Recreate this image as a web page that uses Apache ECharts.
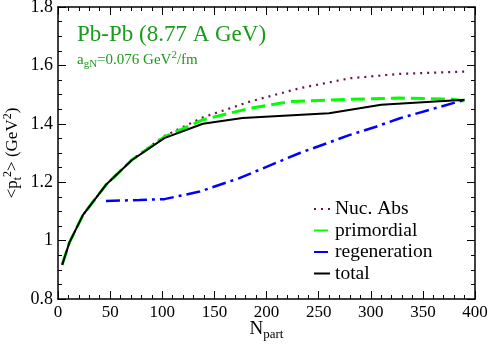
<!DOCTYPE html>
<html>
<head>
<meta charset="utf-8">
<script src="https://cdn.jsdelivr.net/npm/echarts@6/dist/echarts.min.js"></script>
<style>
  html, body { margin: 0; padding: 0; background: #fff; }
  #chart { width: 490px; height: 345px; }
</style>
</head>
<body>
<div id="chart"></div>
<script>
  // values
  const nucNpart = [4, 11, 24, 46, 71, 102, 139, 184, 232, 280, 328, 390]
  const nucPt = [0.917, 0.994, 1.088, 1.191, 1.278, 1.358, 1.422, 1.476, 1.522, 1.556, 1.571, 1.579]
  const primNpart = [4, 11, 24, 46, 71, 102, 139, 184, 222, 280, 328, 376, 390]
  const primPt = [0.917, 0.994, 1.088, 1.191, 1.277, 1.355, 1.414, 1.453, 1.476, 1.484, 1.488, 1.485, 1.478]
  const regenNpart = [46, 78, 102, 136, 174, 232, 280, 305, 328, 390]
  const regenPt = [1.136, 1.139, 1.142, 1.168, 1.214, 1.30, 1.362, 1.39, 1.419, 1.482]
  const totalNpart = [4, 11, 24, 46, 71, 102, 139, 177, 260, 310, 390]
  const totalPt = [0.917, 0.994, 1.088, 1.191, 1.276, 1.351, 1.40, 1.42, 1.436, 1.465, 1.482]

  const font = 'Liberation Serif'
  const green = '#1b9a1b'
  const pair = (xs, ys) => xs.map((x, i) => [x, ys[i]])

  const tickAxis = (extra) => Object.assign({
    axisLine: { show: true, onZero: false, lineStyle: { color: '#000', width: 1.5 } },
    axisTick: { show: true, inside: true, length: 8, lineStyle: { color: '#000', width: 1 } },
    splitLine: { show: false },
    axisLabel: { show: false },
  }, extra)

  const chart = echarts.init(document.getElementById('chart'))
  chart.setOption({
    animation: false,
    backgroundColor: '#fff',
    textStyle: { fontFamily: font },
    grid: { left: 58, right: 15, top: 7, bottom: 46, outerBoundsMode: 'none', containLabel: false },
    title: [
      {
        left: 72, top: 18,
        text: 'Pb-Pb (8.77 A GeV)',
        textStyle: { fontFamily: font, fontSize: 23, fontWeight: 'normal', color: green },
      },
      {
        left: 72, top: 45,
        text: '{a|a}{s|gN}{a|=0.076 GeV}{p|2}{a|/fm}',
        textStyle: {
          fontWeight: 'normal',
          rich: {
            a: { fontFamily: font, fontSize: 15, fontWeight: 'normal', color: green },
            s: { fontFamily: font, fontSize: 11, fontWeight: 'normal', color: green, padding: [9, 0, 0, 0] },
            p: { fontFamily: font, fontSize: 11, fontWeight: 'normal', color: green, padding: [0, 0, 9, 0] },
          },
        },
      },
    ],
    legend: {
      orient: 'vertical',
      left: 308, top: 194,
      itemWidth: 16, itemHeight: 10, itemGap: 1.5,
      itemStyle: { opacity: 0 },
      textStyle: { fontFamily: font, fontSize: 19.5, color: '#000', lineHeight: 19, padding: [0, 0, 0, 0] },
      data: ['Nuc. Abs', 'primordial', 'regeneration', 'total'],
    },
    xAxis: [
      tickAxis({
        type: 'value', min: 0, max: 400, interval: 50,
        minorTick: { show: true, splitNumber: 5, length: 4, lineStyle: { color: '#000' } },
        axisLabel: { show: true, color: '#000', fontFamily: font, fontSize: 17, margin: 5 },
        name: '{n|N}{s|part}',
        nameLocation: 'middle', nameGap: 18, nameMoveOverlap: false,
        nameTextStyle: {
          rich: {
            n: { fontFamily: font, fontSize: 19, color: '#000' },
            s: { fontFamily: font, fontSize: 13, color: '#000', padding: [11, 0, 0, 0] },
          },
        },
      }),
      tickAxis({
        type: 'value', position: 'top', min: 0, max: 400, interval: 50,
        minorTick: { show: true, splitNumber: 5, length: 4, lineStyle: { color: '#000' } },
      }),
    ],
    yAxis: [
      tickAxis({
        type: 'value', min: 0.8, max: 1.8, interval: 0.2,
        minorTick: { show: true, splitNumber: 4, length: 4, lineStyle: { color: '#000' } },
        axisLabel: { show: true, color: '#000', fontFamily: font, fontSize: 18, margin: 5 },
        name: '{a|<p}{s|t}{p|2}{a|> (GeV}{p|2}{a|)}',
        nameLocation: 'middle', nameRotate: 90, nameGap: 34, nameMoveOverlap: false,
        nameTextStyle: {
          rich: {
            a: { fontFamily: font, fontSize: 17, color: '#000' },
            s: { fontFamily: font, fontSize: 12, color: '#000', padding: [10, 0, 0, 0] },
            p: { fontFamily: font, fontSize: 12, color: '#000', padding: [0, 0, 10, 0] },
          },
        },
      }),
      tickAxis({
        type: 'value', position: 'right', min: 0.8, max: 1.8, interval: 0.2,
        minorTick: { show: true, splitNumber: 4, length: 4, lineStyle: { color: '#000' } },
      }),
    ],
    series: [
      {
        name: 'Nuc. Abs', type: 'line', symbol: 'none', z: 1,
        data: pair(nucNpart, nucPt),
        lineStyle: { color: '#6e1150', width: 2.2, type: [2, 5] },
        itemStyle: { color: '#6e1150' },
      },
      {
        name: 'primordial', type: 'line', symbol: 'none', z: 2,
        data: pair(primNpart, primPt),
        lineStyle: { color: '#00ff00', width: 3, type: [14, 6] },
        itemStyle: { color: '#00ff00' },
      },
      {
        name: 'regeneration', type: 'line', symbol: 'none', z: 3,
        data: pair(regenNpart, regenPt),
        lineStyle: { color: '#0000ff', width: 2.5, type: [14, 5, 3, 5] },
        itemStyle: { color: '#0000ff' },
      },
      {
        name: 'total', type: 'line', symbol: 'none', z: 4,
        data: pair(totalNpart, totalPt),
        lineStyle: { color: '#000', width: 2 },
        itemStyle: { color: '#000' },
      },
    ],
  })
</script>
</body>
</html>
